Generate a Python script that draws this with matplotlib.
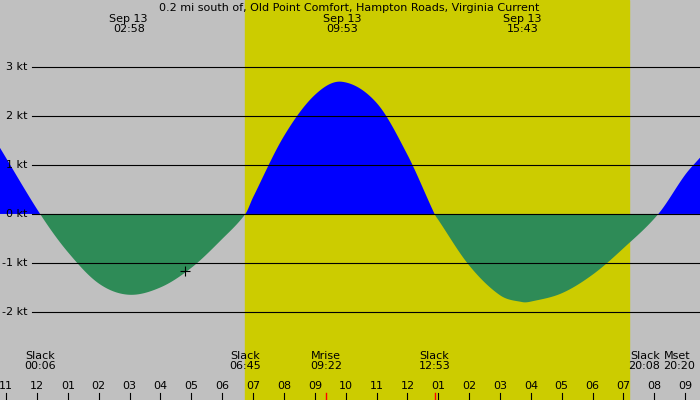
import matplotlib
matplotlib.use("Agg")
import matplotlib.pyplot as plt
import numpy as np

hours = [-1.2, 0.1, 1, 2, 2.97, 4, 5, 6, 6.75, 7, 8, 9, 9.88, 11, 12, 12.88, 13, 14, 15, 15.72, 16, 17, 18, 19, 20.13, 21, 21.48]
speed = [1.35, 0, -0.78, -1.42, -1.65, -1.50, -1.10, -0.51, 0, 0.34, 1.59, 2.43, 2.7, 2.27, 1.21, 0, -0.12, -1.05, -1.66, -1.8, -1.79, -1.62, -1.24, -0.7, 0, 0.8, 1.15]
kt_levels = [3, 2, 1, 0, -1, -2]
kt_labels = ["3 kt", "2 kt", "1 kt", "0 kt", "-1 kt", "-2 kt"]
hour_ticks = list(range(-1, 22))
hour_labels = ["11", "12"] + ["%02d" % h for h in range(1, 13)] + ["%02d" % h for h in range(1, 10)]
events = [(0.1, "Slack\n00:06", "center"), (6.75, "Slack\n06:45", "center"), (9.37, "Mrise\n09:22", "center"),
          (12.88, "Slack\n12:53", "center"), (20.2, "Slack\n20:08", "right"), (20.3, "Mset\n20:20", "left")]
peaks = [(2.97, "Sep 13\n02:58"), (9.88, "Sep 13\n09:53"), (15.72, "Sep 13\n15:43")]
sunrise, sunset = 6.75, 19.18

def smooth(x, y, n=20):
    x = np.array(x); y = np.array(y)
    xs, ys = [], []
    for i in range(len(x) - 1):
        x0, x1 = x[i], x[i + 1]
        m0 = (y[i + 1] - y[i - 1]) / (x[i + 1] - x[i - 1]) if i > 0 else (y[1] - y[0]) / (x[1] - x[0])
        m1 = (y[i + 2] - y[i]) / (x[i + 2] - x[i]) if i + 2 < len(x) else (y[-1] - y[-2]) / (x[-1] - x[-2])
        h = x1 - x0
        t = np.linspace(0, 1, n, endpoint=False)
        h00 = 2*t**3 - 3*t**2 + 1; h10 = t**3 - 2*t**2 + t
        h01 = -2*t**3 + 3*t**2; h11 = t**3 - t**2
        xs.append(x0 + t*h)
        ys.append(h00*y[i] + h10*h*m0 + h01*y[i+1] + h11*h*m1)
    xs.append([x[-1]]); ys.append([y[-1]])
    return np.concatenate(xs), np.concatenate(ys)

fig = plt.figure(figsize=(7, 4), dpi=100)
fig.patch.set_facecolor("#c0c0c0")
ax = fig.add_axes([0, 0, 1, 1])
ax.set_facecolor("#c0c0c0")
ax.set_xlim(-1.2, 21.48)
ax.set_ylim(-3.80, 4.37)
ax.axis("off")
ax.axvspan(sunrise, sunset, color="#cccc00", zorder=0)

xs, ys = smooth(hours, speed)
ax.fill_between(xs, 0, ys, where=ys >= 0, color="#0000ff", interpolate=True, lw=0, zorder=1)
ax.fill_between(xs, 0, ys, where=ys <= 0, color="#2e8b57", interpolate=True, lw=0, zorder=1)

for k, lab in zip(kt_levels, kt_labels):
    ax.axhline(k, color="black", lw=0.8, xmin=0.045, zorder=2)
    ax.text(-0.3, k, lab, ha="right", va="center", fontsize=8, zorder=3)

ax.text(10.1, 4.3, "0.2 mi south of, Old Point Comfort, Hampton Roads, Virginia Current",
        ha="center", va="top", fontsize=8)
for t, lab in peaks:
    ax.text(t, 4.08, lab, ha="center", va="top", fontsize=8, linespacing=0.95)
for t, lab, ha in events:
    ax.text(t, -2.8, lab, ha=ha, va="top", fontsize=8, linespacing=0.95)
for t, lab in zip(hour_ticks, hour_labels):
    ax.text(t, -3.52, lab, ha="center", va="center", fontsize=8)
    ax.plot([t, t], [-3.80, -3.65], color="black", lw=0.8)
ax.plot([9.37, 9.37], [-3.80, -3.65], color="red", lw=1)
ax.plot([12.88, 12.88], [-3.80, -3.65], color="red", lw=1)
ax.plot([4.8], [-1.16], marker="+", color="black", ms=7, mew=0.8)

fig.savefig("out.png", dpi=100, facecolor=fig.get_facecolor())
